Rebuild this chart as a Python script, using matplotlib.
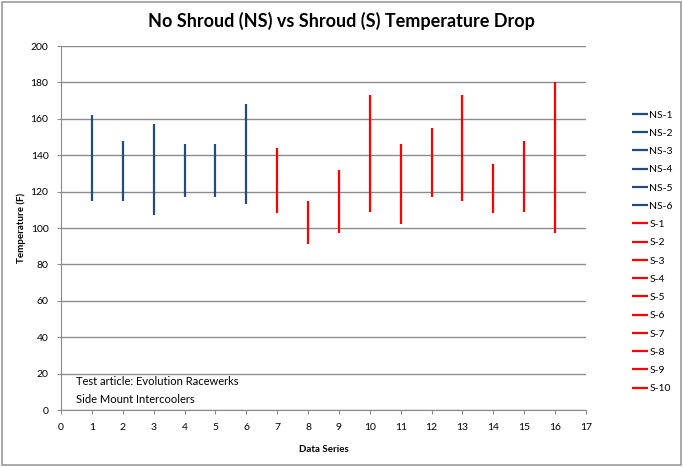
import matplotlib.pyplot as plt
from matplotlib.patches import Rectangle

plt.rcParams['font.family'] = ['Lato', 'DejaVu Sans']

# series names and (low, high) temperature readings
ns_names = ["NS-1", "NS-2", "NS-3", "NS-4", "NS-5", "NS-6"]
ns_x = [1, 2, 3, 4, 5, 6]
ns_low = [115, 115, 107, 117, 117, 113]
ns_high = [162, 148, 157, 146, 146, 168]

s_names = ["S-1", "S-2", "S-3", "S-4", "S-5", "S-6", "S-7", "S-8", "S-9", "S-10"]
s_x = [7, 8, 9, 10, 11, 12, 13, 14, 15, 16]
s_low = [108, 91, 97, 109, 102, 117, 115, 108, 109, 97]
s_high = [144, 115, 132, 173, 146, 155, 173, 135, 148, 180]

ns_color = "#244A82"
s_color = "#FF0000"

fig = plt.figure(figsize=(6.83, 4.67), dpi=100)
ax = fig.add_axes([61 / 683, 57 / 467, 525 / 683, 364 / 467])

for name, x, lo, hi in zip(ns_names, ns_x, ns_low, ns_high):
    ax.plot([x, x], [lo, hi], color=ns_color, lw=1.6, label=name, solid_capstyle="butt")
for name, x, lo, hi in zip(s_names, s_x, s_low, s_high):
    ax.plot([x, x], [lo, hi], color=s_color, lw=1.6, label=name, solid_capstyle="butt")

ax.set_xlim(0, 17)
ax.set_ylim(0, 200)
ax.set_xticks(range(0, 18))
ax.set_yticks(range(0, 201, 20))
ax.yaxis.grid(True, color="#8C8C8C", lw=1)
ax.set_axisbelow(True)
for side in ["top", "right"]:
    ax.spines[side].set_visible(False)
for side in ["left", "bottom"]:
    ax.spines[side].set_color("#8C8C8C")
ax.tick_params(axis="both", labelsize=7.5, color="#8C8C8C", length=3, pad=6)

ax.set_xlabel("Data Series", fontsize=7, fontweight="bold", labelpad=10)
ax.set_ylabel("Temperature (F)", fontsize=7, fontweight="bold", labelpad=3)
fig.suptitle("No Shroud (NS) vs Shroud (S) Temperature Drop", x=0.5, y=0.975,
             fontsize=13, fontweight="bold")

ax.text(0.5, 3, "Test article: Evolution Racewerks\nSide Mount Intercoolers",
        fontsize=8, linespacing=1.75, va="bottom", ha="left")

leg = ax.legend(loc="upper left", bbox_to_anchor=(1.079, 0.835), frameon=False,
                fontsize=7.5, handlelength=1.6, handletextpad=0.1,
                labelspacing=0.86, borderaxespad=0)

fig.patches.append(Rectangle((0.003, 0.004), 0.994, 0.992, transform=fig.transFigure,
                             fill=False, edgecolor="#9A9A9A", lw=1.2))

fig.savefig("out.png", dpi=100)
